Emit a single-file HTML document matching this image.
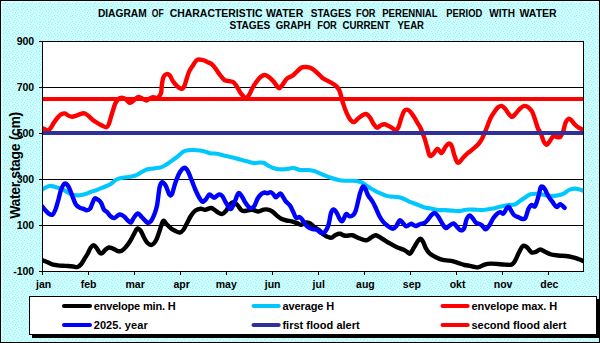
<!DOCTYPE html>
<html><head><meta charset="utf-8"><style>
html,body{margin:0;padding:0;width:600px;height:343px;overflow:hidden;background:#c8ffff}
svg{display:block}
text{font-family:"Liberation Sans",sans-serif;font-weight:bold;fill:#000}
</style></head><body>
<svg width="600" height="343" viewBox="0 0 600 343">
<defs>
<pattern id="dots" x="0" y="0" width="9" height="6" patternUnits="userSpaceOnUse">
<rect width="9" height="6" fill="#c8ffff"/>
<rect x="3" y="0" width="1" height="1" fill="#b6e6ee"/>
<rect x="6" y="0" width="1" height="1" fill="#b6e6ee"/>
<rect x="8" y="1" width="1" height="1" fill="#b6e6ee"/>
<rect x="5" y="2" width="1" height="1" fill="#b6e6ee"/>
<rect x="0" y="3" width="1" height="1" fill="#b6e6ee"/>
<rect x="3" y="3" width="1" height="1" fill="#b6e6ee"/>
<rect x="4" y="4" width="1" height="1" fill="#b6e6ee"/>
<rect x="7" y="4" width="1" height="1" fill="#b6e6ee"/>
<rect x="1" y="5" width="1" height="1" fill="#b6e6ee"/>
</pattern>
<clipPath id="plot"><rect x="43" y="42" width="540" height="229"/></clipPath>
</defs>
<rect x="0" y="0" width="600" height="343" fill="url(#dots)"/>
<g shape-rendering="crispEdges" fill="#000">
<rect x="0" y="0" width="600" height="1"/>
<rect x="0" y="342" width="600" height="1"/>
<rect x="0" y="0" width="1" height="343"/>
<rect x="599" y="0" width="1" height="343"/>
</g>
<rect x="1" y="1" width="598" height="1" fill="#dcffff" shape-rendering="crispEdges"/>
<rect x="1" y="1" width="1" height="341" fill="#dcffff" shape-rendering="crispEdges"/>
<!-- plot area -->
<rect x="42" y="41" width="542" height="231" fill="#fff" shape-rendering="crispEdges"/>
<g shape-rendering="crispEdges" fill="#000">
<rect x="42" y="41" width="542" height="1"/>
<rect x="42" y="271" width="542" height="1"/>
<rect x="42" y="41" width="1" height="231"/>
<rect x="583" y="41" width="1" height="231"/>
<rect x="42" y="87" width="542" height="1"/>
<rect x="42" y="179" width="542" height="1"/>
<rect x="42" y="225" width="542" height="1"/>
<rect x="42" y="133" width="542" height="1"/>
<rect x="39" y="41" width="3" height="1"/>
<rect x="39" y="87" width="3" height="1"/>
<rect x="39" y="133" width="3" height="1"/>
<rect x="39" y="179" width="3" height="1"/>
<rect x="39" y="225" width="3" height="1"/>
<rect x="39" y="271" width="3" height="1"/>
<rect x="42" y="272" width="1" height="3"/>
<rect x="88" y="272" width="1" height="3"/>
<rect x="134" y="272" width="1" height="3"/>
<rect x="180" y="272" width="1" height="3"/>
<rect x="226" y="272" width="1" height="3"/>
<rect x="272" y="272" width="1" height="3"/>
<rect x="318" y="272" width="1" height="3"/>
<rect x="364" y="272" width="1" height="3"/>
<rect x="410" y="272" width="1" height="3"/>
<rect x="456" y="272" width="1" height="3"/>
<rect x="502" y="272" width="1" height="3"/>
<rect x="548" y="272" width="1" height="3"/>
</g>
<g clip-path="url(#plot)" fill="none" stroke-linejoin="round" stroke-linecap="round">
<path d="M42.6 260.2C43.3 260.5 45.4 261.3 47.0 262.0C48.6 262.7 50.5 263.8 52.2 264.3C54.0 264.9 55.8 265.1 57.5 265.3C59.2 265.6 61.0 265.7 62.7 265.8C64.5 265.9 66.2 265.9 68.0 266.0C69.8 266.1 71.6 266.3 73.2 266.5C74.8 266.7 76.3 267.4 77.6 267.0C78.9 266.6 79.9 265.7 81.1 264.3C82.3 262.9 83.5 260.5 84.6 258.7C85.7 256.9 86.9 255.2 87.9 253.3C88.9 251.4 89.8 248.8 90.8 247.5C91.8 246.2 92.7 245.1 93.7 245.2C94.7 245.3 95.7 246.8 96.7 248.1C97.7 249.3 98.7 251.8 99.6 252.7C100.5 253.6 100.9 253.8 101.9 253.3C102.9 252.8 104.2 250.8 105.4 249.8C106.6 248.8 107.6 247.7 108.9 247.5C110.2 247.3 111.5 248.0 113.0 248.6C114.5 249.2 116.1 250.6 117.6 251.0C119.0 251.4 120.3 251.5 121.7 250.8C123.1 250.1 124.4 248.6 125.8 247.0C127.2 245.4 128.6 243.5 129.9 241.5C131.2 239.5 132.3 237.1 133.5 235.0C134.7 232.9 135.8 229.6 137.0 228.8C138.2 228.1 139.3 229.1 140.5 230.5C141.7 231.9 142.8 235.4 144.0 237.5C145.2 239.6 146.2 241.8 147.5 243.0C148.8 244.2 150.5 245.3 151.9 244.8C153.3 244.3 154.9 242.4 156.2 240.0C157.5 237.6 158.5 233.7 159.7 230.5C160.9 227.3 162.0 222.0 163.2 221.0C164.4 220.0 165.4 223.1 166.7 224.3C168.0 225.6 169.6 227.4 171.1 228.5C172.6 229.6 174.1 230.3 175.5 231.0C176.9 231.7 178.5 232.7 179.8 232.5C181.1 232.3 182.1 231.5 183.3 230.0C184.5 228.5 185.6 225.8 186.8 223.5C188.1 221.2 189.4 218.2 190.8 216.0C192.2 213.8 193.8 211.7 195.5 210.5C197.2 209.3 199.1 208.9 200.7 208.8C202.3 208.7 203.4 209.8 205.2 209.7C207.0 209.6 209.5 207.7 211.4 208.0C213.3 208.3 214.8 210.5 216.6 211.5C218.3 212.5 220.3 214.2 221.9 214.1C223.5 213.9 224.9 212.1 226.2 210.6C227.5 209.1 228.3 206.4 229.5 205.0C230.7 203.6 231.9 202.1 233.3 202.2C234.7 202.3 236.4 204.1 237.8 205.5C239.2 206.9 240.4 209.8 242.0 210.6C243.6 211.4 245.5 210.8 247.2 210.6C248.9 210.4 250.7 209.5 252.4 209.7C254.2 209.8 255.8 211.5 257.7 211.5C259.6 211.5 262.0 209.9 263.7 209.6C265.4 209.3 266.6 209.2 268.1 209.6C269.6 209.9 271.0 210.7 272.5 211.7C274.0 212.7 275.4 214.4 276.9 215.6C278.3 216.8 279.6 217.9 281.2 218.7C282.8 219.5 284.8 220.1 286.5 220.5C288.2 220.9 289.9 220.9 291.7 221.3C293.4 221.7 295.4 222.5 297.0 223.1C298.6 223.7 299.9 224.9 301.3 224.8C302.7 224.7 304.0 222.9 305.4 222.6C306.8 222.3 308.0 222.3 309.4 223.0C310.8 223.7 312.1 225.3 313.7 226.5C315.3 227.7 317.2 228.6 319.0 230.0C320.8 231.4 322.2 233.7 324.2 235.0C326.2 236.3 329.1 237.8 331.0 237.8C332.9 237.8 334.1 235.6 335.6 234.9C337.1 234.2 338.4 233.7 340.0 233.8C341.6 234.0 343.2 235.6 345.2 235.8C347.2 236.0 350.2 234.9 352.2 235.2C354.2 235.5 356.1 236.9 357.4 237.5C358.7 238.1 358.5 238.0 360.0 238.5C361.5 239.0 364.7 240.5 366.6 240.3C368.5 240.1 370.0 238.0 371.6 237.2C373.2 236.3 374.3 235.0 376.0 235.2C377.7 235.4 379.6 237.2 381.8 238.5C384.0 239.8 386.7 241.6 389.1 243.0C391.5 244.4 394.0 245.9 396.4 247.0C398.8 248.1 401.9 249.0 403.7 249.8C405.5 250.6 406.2 251.4 407.3 252.0C408.4 252.6 409.1 254.2 410.2 253.5C411.3 252.8 412.6 249.8 413.9 247.7C415.2 245.6 416.8 242.5 417.9 241.0C419.0 239.5 419.6 238.7 420.5 238.8C421.4 238.9 422.1 240.1 423.0 241.7C423.9 243.3 424.8 246.4 425.9 248.3C427.0 250.2 428.0 252.0 429.6 253.4C431.2 254.8 433.2 255.9 435.4 257.0C437.6 258.1 440.3 259.3 442.7 259.9C445.1 260.5 447.6 260.2 450.0 260.7C452.4 261.1 454.8 261.9 457.2 262.6C459.6 263.3 462.4 264.5 464.5 265.0C466.6 265.5 468.4 265.5 470.0 265.8C471.6 266.1 472.9 266.7 474.4 266.9C475.8 267.1 477.0 267.6 478.7 267.2C480.4 266.8 482.7 265.2 484.6 264.6C486.6 264.0 488.2 263.7 490.4 263.6C492.6 263.5 495.3 263.8 497.7 264.0C500.1 264.2 502.6 264.5 504.9 264.6C507.2 264.7 509.8 265.2 511.5 264.6C513.2 264.0 513.9 262.7 515.1 260.7C516.3 258.7 517.6 255.1 518.8 252.7C520.0 250.3 521.3 247.6 522.4 246.5C523.5 245.4 524.4 245.8 525.3 246.1C526.2 246.4 526.8 247.2 527.9 248.3C529.0 249.4 530.3 251.8 531.6 252.4C532.9 253.0 534.5 252.4 535.9 251.9C537.3 251.4 538.7 249.5 540.3 249.5C541.9 249.5 543.6 251.2 545.4 252.0C547.2 252.8 549.0 253.9 551.2 254.5C553.4 255.1 556.1 255.2 558.5 255.5C560.9 255.8 563.4 255.7 565.8 256.0C568.2 256.3 570.8 256.8 573.0 257.3C575.2 257.8 577.2 258.6 578.9 259.2C580.6 259.8 582.5 260.7 583.2 261.0" stroke="#000" stroke-width="4.4"/>
<path d="M42.2 189.6C42.8 189.2 44.5 188.0 45.8 187.4C47.1 186.8 48.7 186.0 50.2 185.9C51.7 185.8 53.1 186.3 54.6 186.7C56.1 187.1 57.5 187.6 59.0 188.1C60.5 188.6 61.8 188.9 63.3 189.6C64.8 190.3 66.2 191.7 67.7 192.5C69.2 193.3 70.6 194.1 72.1 194.6C73.5 195.1 75.1 195.2 76.4 195.3C77.8 195.4 78.7 195.4 80.2 195.2C81.7 195.0 83.8 194.5 85.5 194.0C87.2 193.5 89.0 192.6 90.7 192.0C92.5 191.4 94.2 190.8 96.0 190.2C97.8 189.6 99.5 188.9 101.2 188.2C103.0 187.5 104.9 186.7 106.5 186.0C108.1 185.3 109.1 185.0 110.7 184.0C112.3 183.0 114.2 180.8 116.0 179.8C117.8 178.8 119.5 178.4 121.2 178.0C123.0 177.6 124.8 177.6 126.5 177.3C128.2 177.1 129.9 176.9 131.7 176.5C133.4 176.1 135.2 175.6 137.0 174.8C138.8 174.0 140.5 172.7 142.2 171.8C143.9 170.9 145.7 169.7 147.4 169.2C149.2 168.7 151.4 168.8 152.7 168.6C154.0 168.4 153.9 168.4 155.2 168.2C156.5 168.0 158.7 167.9 160.5 167.4C162.3 166.9 163.9 166.1 165.8 165.0C167.7 163.9 169.8 162.2 171.7 160.8C173.6 159.4 175.7 158.1 177.5 156.6C179.3 155.1 181.1 153.1 182.8 152.0C184.6 150.9 186.2 150.6 188.0 150.3C189.8 150.0 191.9 149.9 193.8 150.0C195.8 150.1 197.8 150.3 199.7 150.6C201.6 150.9 203.6 151.3 205.5 151.8C207.4 152.3 209.4 153.1 211.3 153.4C213.2 153.7 214.8 153.2 217.2 153.7C219.6 154.1 223.4 155.5 226.0 156.1C228.6 156.7 230.7 156.9 233.0 157.5C235.3 158.1 237.7 159.0 240.0 159.6C242.3 160.2 244.7 160.7 247.0 161.3C249.3 161.9 251.8 162.9 254.0 163.1C256.2 163.3 258.3 162.5 260.0 162.5C261.7 162.5 262.8 162.4 264.2 163.0C265.6 163.6 266.8 165.0 268.3 165.8C269.8 166.6 271.6 167.4 273.3 168.0C275.0 168.6 276.4 169.0 278.3 169.2C280.2 169.4 282.5 169.4 285.0 169.2C287.5 169.0 290.8 167.9 293.3 168.0C295.8 168.1 297.5 169.7 300.0 170.0C302.5 170.3 305.8 169.8 308.3 170.0C310.8 170.2 312.8 170.6 315.0 171.3C317.2 172.0 319.2 173.2 321.7 174.2C324.2 175.2 327.2 176.5 330.0 177.5C332.8 178.5 335.8 179.4 338.3 180.0C340.8 180.6 342.5 180.7 345.0 180.8C347.5 180.9 350.6 180.6 353.3 180.8C356.0 181.0 359.1 181.5 361.1 182.2C363.1 182.9 363.9 183.9 365.5 184.9C367.1 185.9 368.9 187.3 370.7 188.4C372.4 189.5 374.2 190.4 376.0 191.3C377.8 192.2 379.4 192.8 381.2 193.6C382.9 194.4 384.8 195.4 386.5 195.9C388.2 196.4 389.9 196.4 391.7 196.6C393.4 196.8 395.2 196.8 397.0 197.1C398.8 197.4 400.5 197.7 402.2 198.3C403.9 198.9 406.1 200.0 407.4 200.6C408.7 201.2 408.4 201.2 410.0 201.9C411.6 202.6 414.7 203.6 417.0 204.5C419.3 205.4 421.7 206.5 424.0 207.2C426.3 207.9 428.7 208.1 431.0 208.6C433.3 209.1 435.7 209.8 438.0 210.0C440.3 210.2 442.7 210.0 445.0 210.1C447.3 210.2 449.7 210.4 452.0 210.6C454.3 210.8 456.7 211.2 459.0 211.1C461.3 210.9 463.6 209.9 466.0 209.7C468.4 209.4 470.9 209.5 473.7 209.6C476.4 209.7 479.6 210.1 482.5 210.0C485.4 209.9 488.3 209.3 491.2 208.8C494.1 208.3 497.1 207.4 500.0 206.8C502.9 206.2 506.2 205.5 508.7 205.1C511.2 204.7 513.0 205.1 514.8 204.5C516.5 203.9 517.5 202.7 519.2 201.5C520.9 200.3 523.3 198.7 525.2 197.5C527.1 196.3 528.5 194.8 530.5 194.2C532.5 193.6 535.2 193.7 537.5 193.8C539.8 193.9 542.2 194.6 544.5 195.0C546.8 195.4 549.2 196.0 551.5 196.0C553.8 196.0 556.5 195.6 558.5 195.2C560.5 194.8 562.0 194.5 563.7 193.6C565.5 192.7 567.2 190.8 569.0 190.0C570.8 189.2 572.5 188.7 574.2 188.6C575.9 188.5 577.8 189.1 579.4 189.5C581.0 189.9 583.1 190.7 583.8 190.9" stroke="#00c8ff" stroke-width="4.1"/>
<path d="M42.2 128.2C42.6 128.3 43.5 128.6 44.4 129.0C45.2 129.4 46.3 130.6 47.3 130.5C48.3 130.4 49.1 129.9 50.2 128.6C51.3 127.3 52.6 124.6 53.8 122.8C55.0 121.0 56.3 119.1 57.5 117.7C58.7 116.3 59.9 115.1 61.1 114.4C62.3 113.7 63.6 113.2 64.8 113.4C66.0 113.6 67.2 115.0 68.4 115.6C69.6 116.2 70.8 116.8 72.1 116.8C73.4 116.8 75.0 116.1 76.4 115.6C77.9 115.1 79.5 114.2 80.8 113.8C82.1 113.4 83.3 113.1 84.5 113.4C85.7 113.7 86.5 114.3 88.1 115.6C89.7 116.9 92.3 119.6 94.3 121.1C96.3 122.6 98.6 123.7 100.0 124.5C101.4 125.3 101.8 125.5 102.9 126.0C104.0 126.5 105.6 127.5 106.6 127.2C107.6 127.0 108.0 126.2 108.7 124.5C109.4 122.8 110.2 119.6 110.9 117.2C111.6 114.8 112.4 112.3 113.1 110.0C113.8 107.7 114.4 105.2 115.3 103.4C116.2 101.6 117.1 100.0 118.2 99.0C119.3 98.0 120.7 97.6 121.9 97.6C123.1 97.6 124.3 98.2 125.5 99.0C126.7 99.8 128.0 102.3 129.2 102.7C130.4 103.1 131.6 102.0 132.8 101.2C134.0 100.4 135.3 98.7 136.4 98.0C137.5 97.3 138.3 96.9 139.4 97.1C140.5 97.3 141.8 98.4 143.0 99.0C144.2 99.6 145.6 100.5 146.6 100.5C147.6 100.5 147.9 99.4 149.0 98.9C150.1 98.4 151.5 97.5 153.0 97.3C154.5 97.1 156.5 98.3 157.8 97.6C159.1 96.9 160.3 95.3 161.0 93.3C161.7 91.2 161.4 88.0 161.8 85.3C162.2 82.6 162.6 79.1 163.4 77.2C164.2 75.3 165.5 74.3 166.6 74.0C167.7 73.7 168.7 74.4 169.8 75.6C170.9 76.8 171.8 79.5 173.0 81.3C174.2 83.0 175.7 84.8 177.0 86.1C178.3 87.3 179.8 88.8 181.0 88.8C182.2 88.8 183.4 87.8 184.3 86.1C185.2 84.4 185.9 81.2 186.7 78.8C187.5 76.4 188.0 73.9 189.1 71.6C190.2 69.3 191.8 67.2 193.1 65.2C194.4 63.2 195.5 60.8 197.1 59.9C198.7 59.0 201.2 59.8 202.9 60.1C204.6 60.4 205.8 61.2 207.2 61.9C208.6 62.5 210.1 62.8 211.6 64.0C213.1 65.2 214.6 67.3 216.0 69.2C217.4 71.1 218.9 73.5 220.3 75.3C221.8 77.1 223.2 79.1 224.7 80.1C226.2 81.1 227.6 80.7 229.1 81.1C230.6 81.5 232.2 81.4 233.5 82.3C234.8 83.2 235.8 85.0 237.0 86.7C238.2 88.5 239.1 91.0 240.5 92.8C241.9 94.6 244.1 97.3 245.5 97.8C246.9 98.2 247.5 97.1 248.7 95.5C249.9 93.9 251.3 90.2 252.5 88.0C253.7 85.8 254.8 84.1 256.1 82.3C257.4 80.5 259.0 78.2 260.5 77.0C262.0 75.8 263.4 75.0 264.9 75.0C266.3 75.0 267.8 76.1 269.2 77.2C270.6 78.3 272.0 79.7 273.6 81.5C275.2 83.3 277.4 87.5 278.8 88.1C280.2 88.7 281.0 86.5 282.3 85.0C283.6 83.5 284.9 80.4 286.7 78.8C288.4 77.2 291.1 76.8 292.8 75.5C294.6 74.2 295.7 72.6 297.2 71.3C298.7 70.0 300.2 68.2 301.6 67.5C303.1 66.8 304.4 66.9 305.9 67.0C307.4 67.1 309.0 67.1 310.8 68.0C312.6 68.9 314.8 70.6 316.7 72.3C318.6 74.0 320.6 76.5 322.5 78.0C324.4 79.5 326.2 79.9 328.3 81.1C330.4 82.3 333.5 83.7 335.3 85.3C337.1 86.9 338.1 87.6 339.4 90.5C340.7 93.4 341.7 99.1 342.9 102.7C344.1 106.3 345.1 109.4 346.4 112.3C347.7 115.2 349.4 118.6 350.7 120.2C352.0 121.8 352.9 122.3 354.2 122.0C355.5 121.7 357.1 119.3 358.6 118.1C360.1 116.9 361.7 115.7 363.0 115.0C364.3 114.3 365.3 113.7 366.5 114.1C367.7 114.5 368.8 116.0 370.0 117.6C371.2 119.2 372.3 122.0 373.5 123.7C374.7 125.4 375.8 127.4 377.0 127.7C378.2 128.0 379.2 126.0 380.5 125.4C381.8 124.8 383.5 124.1 384.8 124.2C386.1 124.3 387.3 125.3 388.5 125.9C389.7 126.5 390.8 127.2 392.0 127.9C393.2 128.6 394.4 130.3 395.5 130.2C396.6 130.1 397.4 129.3 398.4 127.3C399.4 125.3 400.3 120.7 401.3 118.0C402.3 115.3 403.2 112.4 404.2 111.0C405.2 109.6 406.2 109.5 407.2 109.6C408.2 109.7 409.0 110.4 410.1 111.5C411.2 112.6 412.3 114.2 413.6 116.2C414.9 118.2 416.6 121.2 417.7 123.2C418.8 125.2 419.4 125.5 420.5 128.0C421.6 130.4 423.3 134.7 424.4 137.9C425.5 141.1 426.2 144.1 427.1 147.0C428.0 149.9 428.7 154.4 429.7 155.6C430.7 156.8 431.7 155.4 433.0 154.3C434.3 153.2 436.2 149.2 437.6 149.0C439.0 148.8 440.2 153.3 441.5 153.0C442.8 152.7 444.2 148.6 445.4 147.0C446.6 145.4 447.6 143.8 448.7 143.6C449.8 143.4 450.8 144.2 451.7 146.0C452.6 147.8 453.1 151.5 454.0 154.1C454.9 156.7 456.0 160.3 456.9 161.7C457.8 163.1 458.1 163.0 459.2 162.3C460.3 161.6 461.8 159.2 463.3 157.6C464.8 156.0 466.2 154.4 468.0 152.9C469.8 151.4 472.1 149.8 473.8 148.3C475.6 146.8 477.1 145.6 478.5 144.0C479.9 142.4 480.8 141.0 482.0 138.7C483.2 136.4 484.4 133.4 485.8 130.0C487.2 126.6 489.0 121.5 490.5 118.3C492.0 115.1 493.8 112.8 495.0 111.0C496.2 109.2 496.8 108.2 497.9 107.4C499.0 106.6 500.4 105.7 501.6 105.9C502.8 106.1 504.0 107.5 505.2 108.8C506.4 110.1 507.6 112.7 508.8 114.0C510.0 115.3 511.1 116.9 512.2 116.9C513.3 116.9 514.1 115.3 515.4 114.0C516.7 112.7 518.3 110.1 519.8 108.8C521.3 107.5 522.8 106.1 524.2 105.9C525.7 105.7 527.2 106.4 528.5 107.4C529.8 108.4 531.1 109.7 532.2 111.8C533.3 113.9 534.1 117.0 535.1 119.8C536.1 122.6 537.0 126.2 538.0 128.5C539.0 130.8 539.8 131.2 540.8 133.4C541.8 135.6 542.7 139.5 543.7 141.4C544.7 143.3 545.7 144.7 546.7 144.7C547.7 144.7 548.5 142.8 549.6 141.4C550.7 140.0 552.0 137.0 553.2 136.3C554.4 135.6 555.7 137.0 556.9 137.1C558.1 137.2 559.4 137.9 560.5 136.8C561.6 135.7 562.5 132.9 563.4 130.5C564.2 128.1 564.8 124.5 565.6 122.5C566.5 120.5 567.5 119.2 568.5 118.8C569.5 118.4 570.3 119.3 571.4 120.3C572.5 121.3 573.9 123.5 575.1 124.7C576.3 125.9 577.4 126.8 578.7 127.6C580.0 128.4 582.4 129.4 583.1 129.8" stroke="#ff0000" stroke-width="4.4"/>
<path d="M42.2 206.3C42.7 206.9 44.0 208.8 45.1 210.0C46.2 211.2 47.5 212.8 48.7 213.6C49.9 214.4 51.3 215.3 52.4 214.7C53.5 214.1 54.3 212.4 55.3 210.0C56.3 207.6 57.2 203.9 58.2 200.5C59.2 197.1 60.0 192.4 61.1 189.6C62.2 186.8 63.6 184.0 64.8 183.5C66.0 183.0 67.2 184.5 68.4 186.5C69.6 188.5 70.9 192.5 72.1 195.4C73.3 198.3 74.5 202.2 75.7 204.2C77.0 206.2 78.4 206.9 79.6 207.6C80.8 208.3 81.7 208.2 82.9 208.6C84.1 209.0 85.6 210.2 86.8 210.2C88.0 210.2 89.2 209.6 90.1 208.6C91.0 207.6 91.3 205.7 92.1 204.0C92.9 202.3 93.7 199.2 94.7 198.5C95.7 197.8 96.9 198.9 98.0 199.7C99.1 200.4 100.2 201.4 101.2 203.0C102.2 204.6 102.9 208.0 103.9 209.5C104.9 211.0 106.1 211.1 107.2 212.2C108.3 213.3 109.2 215.1 110.4 216.1C111.6 217.1 112.7 218.3 114.2 218.0C115.7 217.7 117.9 214.8 119.5 214.5C121.1 214.2 122.3 215.1 123.8 216.2C125.2 217.2 127.0 219.8 128.2 220.8C129.4 221.9 130.0 223.1 131.0 222.5C132.0 221.9 132.8 219.0 134.0 217.5C135.2 216.0 136.5 213.5 137.9 213.5C139.3 213.5 140.6 216.0 142.2 217.5C143.8 219.0 146.0 222.1 147.5 222.7C149.0 223.3 149.8 222.4 151.0 221.0C152.2 219.6 153.5 216.6 154.5 214.0C155.5 211.4 156.2 209.6 157.1 205.2C157.9 200.8 158.8 191.2 159.6 187.3C160.4 183.5 161.2 182.4 162.2 182.1C163.2 181.8 164.5 183.6 165.7 185.6C166.9 187.6 168.2 192.9 169.2 194.3C170.2 195.8 170.9 196.2 171.9 194.3C172.9 192.4 174.0 186.6 175.3 183.0C176.6 179.4 178.2 175.0 179.7 172.5C181.2 170.0 182.8 168.1 184.1 167.8C185.4 167.5 186.3 168.5 187.6 170.7C188.9 172.9 190.7 178.0 192.0 181.2C193.3 184.4 194.2 187.1 195.5 190.0C196.8 192.9 198.6 196.7 199.8 198.7C201.0 200.7 201.5 201.8 202.5 201.9C203.5 202.0 204.8 200.4 206.0 199.2C207.2 198.0 208.2 194.7 209.5 194.5C210.8 194.3 212.5 197.8 214.0 197.8C215.5 197.8 217.2 195.0 218.5 194.7C219.8 194.3 220.8 194.5 222.0 195.7C223.2 196.9 224.3 199.9 225.5 201.9C226.7 203.9 228.0 206.4 229.0 207.5C230.0 208.6 230.5 209.6 231.5 208.5C232.5 207.4 233.8 203.6 235.0 201.0C236.2 198.4 237.3 193.8 238.5 193.1C239.7 192.4 240.8 195.0 242.0 196.6C243.2 198.2 244.2 200.8 245.5 202.7C246.8 204.6 248.6 207.4 250.0 208.0C251.4 208.6 252.9 207.8 254.2 206.2C255.5 204.6 256.5 200.6 257.6 198.6C258.8 196.6 259.9 195.2 261.1 194.2C262.3 193.2 263.6 192.6 264.6 192.5C265.6 192.4 266.2 193.5 267.2 193.4C268.2 193.3 269.7 192.0 270.7 192.1C271.7 192.2 272.5 193.3 273.4 194.2C274.3 195.1 274.9 197.5 276.0 197.4C277.1 197.3 279.1 193.5 280.3 193.4C281.5 193.3 282.1 195.6 283.0 196.9C283.9 198.2 284.4 199.8 285.6 201.2C286.8 202.6 288.7 203.7 290.0 205.6C291.3 207.5 292.5 210.6 293.5 212.6C294.5 214.6 295.1 217.1 296.1 217.8C297.1 218.5 298.6 216.7 299.6 217.0C300.6 217.3 301.2 218.3 302.2 219.6C303.2 220.9 304.6 223.5 305.7 224.8C306.8 226.1 307.3 226.6 308.5 227.3C309.7 228.0 311.4 228.7 312.9 229.1C314.3 229.5 315.8 229.3 317.2 230.0C318.6 230.7 320.3 232.8 321.6 233.1C322.9 233.4 324.0 233.0 325.1 231.7C326.2 230.3 327.5 228.1 328.5 225.0C329.5 221.9 330.1 215.6 331.0 213.0C331.9 210.4 332.8 209.4 333.8 209.5C334.8 209.6 336.0 211.7 337.0 213.4C338.0 215.1 339.1 218.2 340.0 219.5C340.9 220.8 341.6 221.8 342.6 220.9C343.6 220.0 344.9 215.0 346.1 214.2C347.3 213.4 348.4 216.2 349.6 216.3C350.8 216.5 352.1 216.0 353.1 215.1C354.1 214.2 354.8 213.2 355.7 210.7C356.6 208.2 357.6 203.2 358.3 200.2C359.1 197.2 359.4 195.0 360.2 192.7C361.0 190.4 362.0 187.2 362.9 186.6C363.8 186.0 364.6 187.8 365.5 189.2C366.4 190.6 366.9 193.2 368.1 195.3C369.3 197.4 371.2 199.3 372.5 201.5C373.8 203.7 374.8 206.0 376.0 208.5C377.2 211.0 378.3 214.1 379.5 216.3C380.7 218.5 381.7 220.1 383.0 221.6C384.3 223.1 385.6 224.4 387.3 225.6C389.0 226.8 391.5 228.8 393.0 228.8C394.5 228.8 395.4 227.2 396.5 225.8C397.6 224.4 398.7 220.7 399.8 220.3C400.9 219.9 402.2 222.5 403.3 223.5C404.4 224.5 405.0 226.2 406.3 226.3C407.6 226.4 409.7 224.0 410.9 223.8C412.1 223.6 412.6 224.6 413.5 225.0C414.4 225.4 415.1 226.2 416.2 226.0C417.3 225.8 418.9 224.5 420.3 224.0C421.7 223.5 423.0 223.8 424.4 223.0C425.8 222.2 427.2 220.3 428.4 219.0C429.6 217.7 430.4 216.0 431.5 215.0C432.6 214.0 433.7 212.8 434.9 213.1C436.1 213.4 437.3 215.2 438.5 217.0C439.7 218.8 441.1 221.8 442.3 223.7C443.5 225.5 444.6 227.8 445.8 228.1C447.0 228.4 448.0 226.6 449.3 225.8C450.6 225.0 452.4 223.2 453.7 223.4C455.0 223.6 456.0 226.0 457.2 227.2C458.4 228.3 459.5 230.2 460.7 230.3C461.9 230.5 463.2 229.9 464.2 228.1C465.2 226.3 465.6 221.6 466.5 219.5C467.4 217.4 468.5 215.8 469.5 215.5C470.5 215.2 471.4 216.8 472.5 218.0C473.6 219.2 474.8 221.8 476.0 222.8C477.2 223.8 478.5 223.6 479.5 224.0C480.5 224.4 481.0 224.6 482.0 225.5C483.0 226.4 484.3 229.3 485.5 229.4C486.7 229.5 487.8 227.8 489.0 226.0C490.2 224.2 491.8 220.6 493.0 218.7C494.2 216.8 495.3 215.4 496.5 214.3C497.7 213.2 498.8 212.2 500.0 212.1C501.2 212.0 502.2 214.4 503.5 213.5C504.8 212.6 506.6 207.5 507.8 206.8C509.0 206.1 509.5 208.1 510.5 209.5C511.5 210.9 512.6 213.7 514.0 215.0C515.4 216.3 517.6 216.8 519.0 217.5C520.4 218.2 521.4 218.9 522.5 219.0C523.6 219.1 524.5 219.5 525.5 217.8C526.5 216.1 527.4 211.1 528.4 209.0C529.4 206.9 530.3 205.5 531.4 205.0C532.5 204.5 533.8 207.6 535.0 206.2C536.2 204.8 537.4 199.7 538.4 196.5C539.4 193.3 540.0 188.2 541.0 186.9C542.0 185.6 543.3 187.2 544.5 188.6C545.7 190.0 546.7 193.4 548.0 195.6C549.3 197.8 550.8 199.8 552.3 201.7C553.8 203.6 555.4 206.6 556.7 207.0C558.0 207.4 558.9 204.2 560.2 204.3C561.5 204.4 563.9 207.2 564.6 207.8" stroke="#0000ff" stroke-width="4.4"/>
</g>
<rect x="43" y="131" width="540" height="4" fill="#30309a" shape-rendering="crispEdges"/>
<rect x="43" y="97" width="540" height="4" fill="#ff0000" shape-rendering="crispEdges"/>
<!-- title -->
<g font-size="10.5">
<text x="97.90" y="16.8" textLength="48.78" lengthAdjust="spacingAndGlyphs">DIAGRAM</text>
<text x="151.80" y="16.8" textLength="11.89" lengthAdjust="spacingAndGlyphs">OF</text>
<text x="169.70" y="16.8" textLength="92.84" lengthAdjust="spacingAndGlyphs">CHARACTERISTIC</text>
<text x="266.00" y="16.8" textLength="37.25" lengthAdjust="spacingAndGlyphs">WATER</text>
<text x="310.70" y="16.8" textLength="40.64" lengthAdjust="spacingAndGlyphs">STAGES</text>
<text x="356.00" y="16.8" textLength="19.56" lengthAdjust="spacingAndGlyphs">FOR</text>
<text x="382.20" y="16.8" textLength="55.42" lengthAdjust="spacingAndGlyphs">PERENNIAL</text>
<text x="446.30" y="16.8" textLength="35.95" lengthAdjust="spacingAndGlyphs">PERIOD</text>
<text x="489.30" y="16.8" textLength="25.65" lengthAdjust="spacingAndGlyphs">WITH</text>
<text x="519.50" y="16.8" textLength="37.14" lengthAdjust="spacingAndGlyphs">WATER</text>
<text x="229.40" y="28.8" textLength="40.84" lengthAdjust="spacingAndGlyphs">STAGES</text>
<text x="275.80" y="28.8" textLength="34.84" lengthAdjust="spacingAndGlyphs">GRAPH</text>
<text x="317.20" y="28.8" textLength="19.67" lengthAdjust="spacingAndGlyphs">FOR</text>
<text x="342.50" y="28.8" textLength="47.39" lengthAdjust="spacingAndGlyphs">CURRENT</text>
<text x="397.50" y="28.8" textLength="26.50" lengthAdjust="spacingAndGlyphs">YEAR</text>
</g>
<!-- y labels -->
<g font-size="10.5" text-anchor="end">
<text x="34.2" y="45">900</text>
<text x="34.2" y="91">700</text>
<text x="34.2" y="137">500</text>
<text x="34.2" y="183">300</text>
<text x="34.2" y="229">100</text>
<text x="34.2" y="275">-100</text>
</g>
<!-- x labels -->
<g font-size="10.5" text-anchor="middle">
<text x="43.6" y="288">jan</text>
<text x="88.6" y="288">feb</text>
<text x="135.1" y="288">mar</text>
<text x="181.7" y="288">apr</text>
<text x="226.3" y="288">may</text>
<text x="272.6" y="288">jun</text>
<text x="318.7" y="288">jul</text>
<text x="365.4" y="288">aug</text>
<text x="411.9" y="288">sep</text>
<text x="457.5" y="288">okt</text>
<text x="503.1" y="288">nov</text>
<text x="549.4" y="288">dec</text>
</g>
<text transform="translate(20.4 165.3) rotate(-90)" font-size="14" text-anchor="middle" textLength="107" lengthAdjust="spacing">Water stage (cm)</text>
<!-- legend -->
<rect x="32" y="299" width="568" height="39" fill="#000" shape-rendering="crispEdges"/>
<rect x="29.5" y="296.5" width="567" height="38" fill="#fff" stroke="#000" stroke-width="1" shape-rendering="crispEdges"/>
<g stroke-width="4" stroke-linecap="round">
<line x1="64" y1="306" x2="90" y2="306" stroke="#000"/>
<line x1="64" y1="325" x2="90" y2="325" stroke="#0000ff"/>
<line x1="253.5" y1="306" x2="278.7" y2="306" stroke="#00c8ff"/>
<line x1="253.5" y1="325" x2="278.7" y2="325" stroke="#30309a"/>
<line x1="442.5" y1="306" x2="467.7" y2="306" stroke="#ff0000"/>
<line x1="442.5" y1="325" x2="467.7" y2="325" stroke="#ff0000"/>
</g>
<g font-size="11">
<text x="93.7" y="309.9" textLength="82" lengthAdjust="spacing">envelope min. H</text>
<text x="93.7" y="329" textLength="54" lengthAdjust="spacing">2025. year</text>
<text x="282.4" y="309.9" textLength="51.8" lengthAdjust="spacing">average H</text>
<text x="282.4" y="329" textLength="77.3" lengthAdjust="spacing">first flood alert</text>
<text x="471.5" y="309.9" textLength="85.6" lengthAdjust="spacing">envelope max. H</text>
<text x="471.5" y="329" textLength="94.8" lengthAdjust="spacing">second flood alert</text>
</g>
</svg>
</body></html>
